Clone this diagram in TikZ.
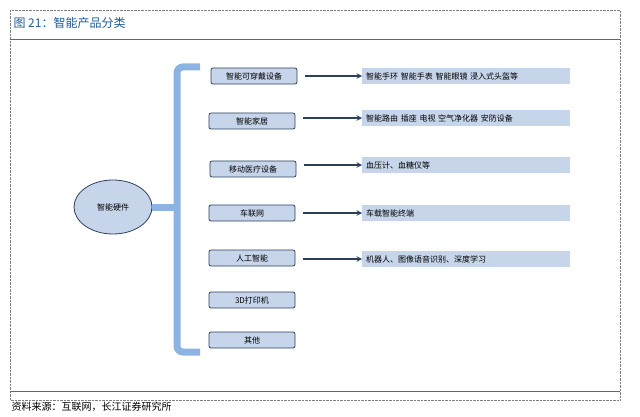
\documentclass[tikz,border=0pt]{standalone}
\usepackage{fontspec}
\setmainfont{Noto Sans CJK SC}
\usepackage{tikz}
\usetikzlibrary{positioning,shapes.geometric}
\definecolor{titleblue}{HTML}{1F5C99}
\definecolor{boxfill}{HTML}{C6D5EA}
\definecolor{bracecol}{HTML}{8DB3E2}
\definecolor{navy}{HTML}{2E3F5E}
\begin{document}
\begin{tikzpicture}[y=-1pt,x=1pt,
	catbox/.style={draw=navy, fill=boxfill, rounded corners=2pt, line width=0.8pt, minimum width=86pt, minimum height=16pt, inner sep=0pt, font=\fontsize{8}{9}\selectfont},
	itembox/.style={fill=boxfill, minimum width=208pt, minimum height=16pt, inner sep=4pt, text width=200pt, align=left, font=\fontsize{8}{9}\selectfont},
	link/.style={navy, line width=1.4pt, -stealth}]
	\useasboundingbox (0,0) rectangle (640,417);
	% frame and title
	\draw[gray, densely dotted] (10,10) rectangle (620,400);
	\node[anchor=west, text=titleblue, font=\fontsize{12}{14}\selectfont] (title) at (10,23) {图 21：智能产品分类};
	\draw[gray!80!black, line width=1pt] (10,40) -- (620,40);
	\draw[gray!80!black, line width=1pt] (10,391) -- (620,391);
	\node[anchor=west, font=\fontsize{10}{12}\selectfont] (source) at (8,407) {资料来源：互联网，长江证券研究所};

	% root
	\node[ellipse, draw=navy, fill=boxfill, line width=0.8pt, minimum width=78pt, minimum height=54pt, font=\fontsize{8}{9}\selectfont] (root) at (113,207) {智能硬件};

	% brace
	\draw[bracecol, line width=7pt, rounded corners=6pt] (200,67) -- (177,67) -- (177,352) -- (200,352);
	\draw[bracecol, line width=7pt] (root.east) -- (177,207);

	% categories
	\node[catbox] (wear) at (254,76) {智能可穿戴设备};
	\node[catbox] (home) at (252,121) {智能家居};
	\node[catbox] (med) at (253,169) {移动医疗设备};
	\node[catbox] (car) at (252,213) {车联网};
	\node[catbox] (ai) at (252,258) {人工智能};
	\node[catbox] (print) at (252,300) {3D打印机};
	\node[catbox] (other) at (252,340) {其他};

	% items
	\node[itembox, anchor=west] (wearI) at (362,76) {智能手环\ 智能手表\ 智能眼镜\ 浸入式头盔等};
	\node[itembox, anchor=west] (homeI) at (362,118) {智能路由\ 插座\ 电视\ 空气净化器\ 安防设备};
	\node[itembox, anchor=west] (medI) at (362,165) {血压计、血糖仪等};
	\node[itembox, anchor=west] (carI) at (362,213) {车载智能终端};
	\node[itembox, anchor=west] (aiI) at (362,259) {机器人、图像语音识别、深度学习};

	\foreach \a/\b in {wear/wearI, home/homeI, med/medI, car/carI, ai/aiI}
		\draw[link] ([xshift=8pt]\a.east |- \b.west) -- (\b.west);
\end{tikzpicture}
\end{document}
